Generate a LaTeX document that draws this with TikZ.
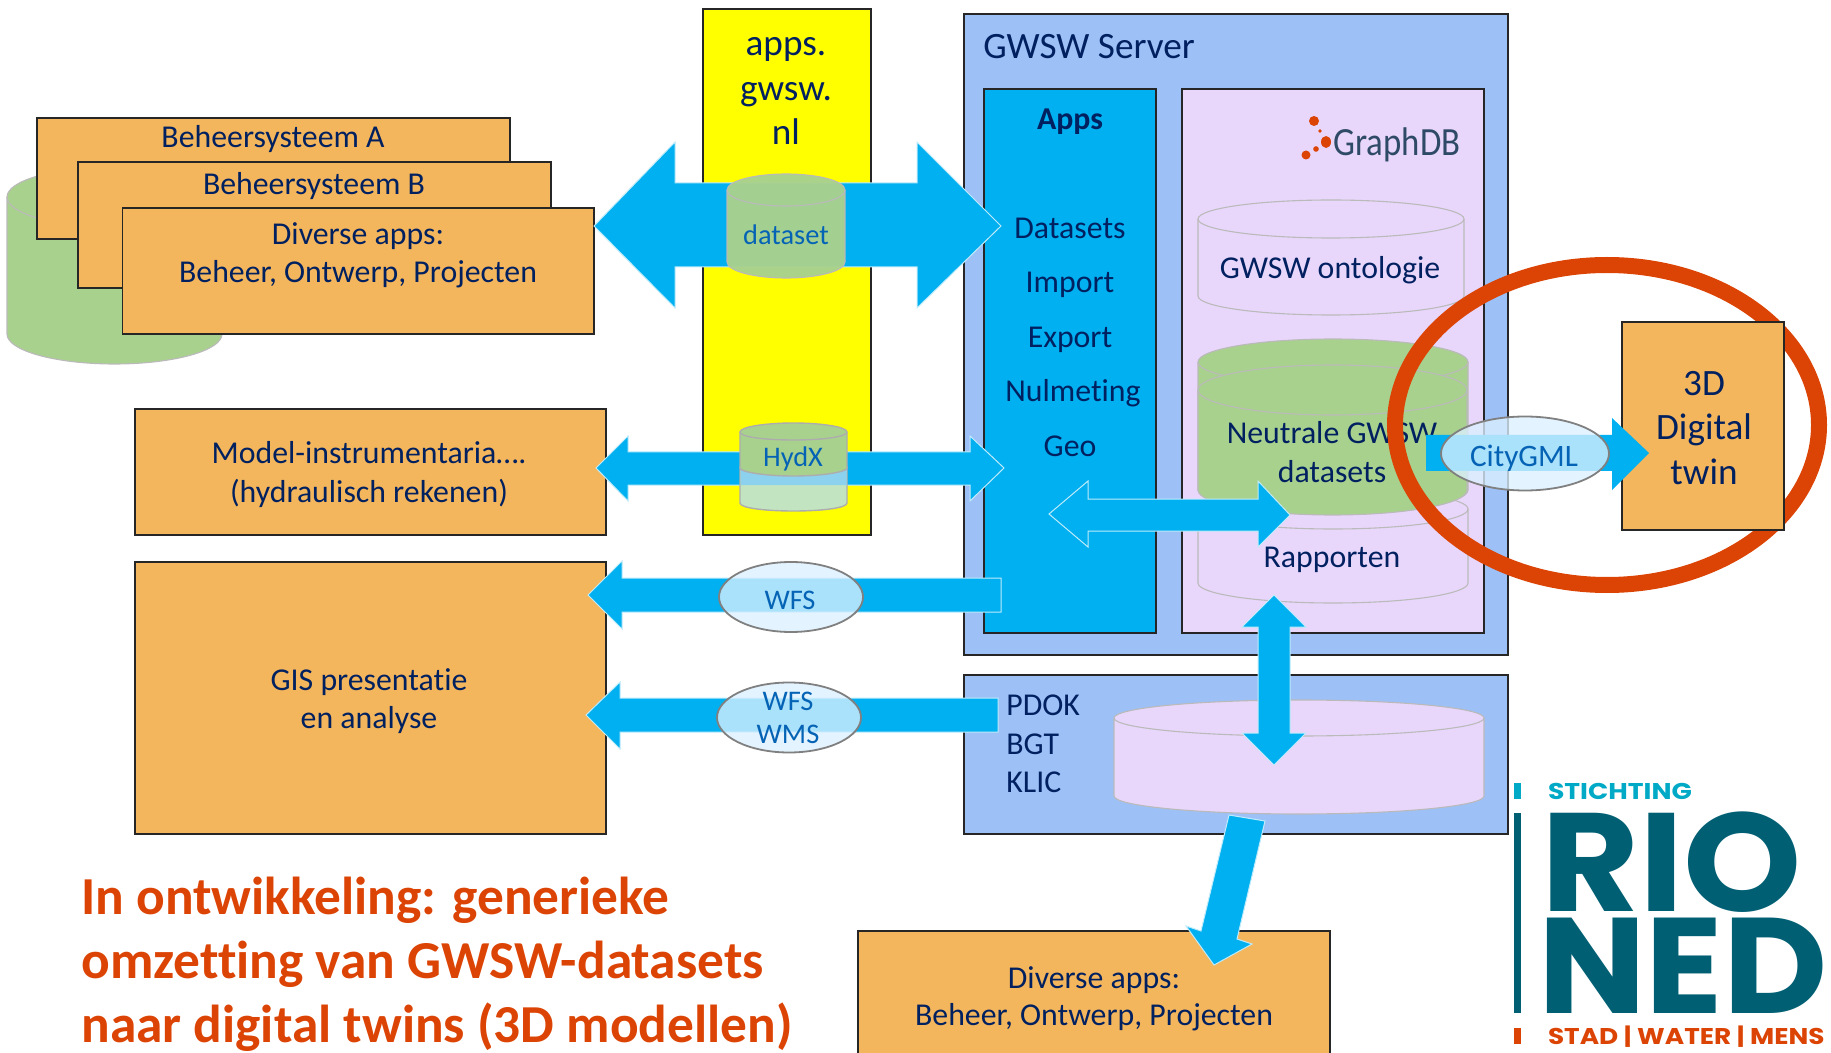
\documentclass[tikz,border=0pt]{standalone}
\usepackage{fontspec}
\setmainfont{Carlito}[Ligatures=NoCommon]
\newfontfamily\logofont{Poppins}
\newfontfamily\logoa{Poppins}[FakeStretch=1.17]
\newfontfamily\logob{Poppins}[FakeStretch=1.075]
\newfontfamily\logoc{Poppins}[FakeStretch=1.055]
\newfontfamily\logod{Poppins}[FakeStretch=1.155]
\newfontfamily\gdbfont{Carlito}[FakeStretch=.87]
\definecolor{navy}{HTML}{002060}
\definecolor{boxorange}{HTML}{F4B65C}
\definecolor{serverblue}{HTML}{9DC0F7}
\definecolor{appblue}{HTML}{00B0F0}
\definecolor{lilac}{HTML}{E8D7FB}
\definecolor{dbgreen}{HTML}{A9D18E}
\definecolor{palegreen}{HTML}{C3E4C0}
\definecolor{stripblue}{HTML}{8CD2EE}
\definecolor{redorange}{HTML}{DC4405}
\definecolor{labelblue}{HTML}{0563B5}
\definecolor{logoteal}{HTML}{005F73}
\definecolor{logolight}{HTML}{00A9C5}
\definecolor{oval}{HTML}{DBF0FF}
\definecolor{graphtext}{HTML}{2F4A66}
\definecolor{pureyellow}{HTML}{FFFF00}
\newcommand\cyl[6]{%
 \pgfmathsetmacro\cxm{(#1+#2)/2}\pgfmathsetmacro\crx{(#2-#1)/2}%
 \pgfmathsetmacro\cky{.5523*#5}\pgfmathsetmacro\ckx{.5523*\crx}%
 \path[cylbody,#6] (#1,#3) -- (#1,#4)
   .. controls (#1,#4+\cky) and (\cxm-\ckx,#4+#5) .. (\cxm,#4+#5)
   .. controls (\cxm+\ckx,#4+#5) and (#2,#4+\cky) .. (#2,#4) -- (#2,#3)
   .. controls (#2,#3-\cky) and (\cxm+\ckx,#3-#5) .. (\cxm,#3-#5)
   .. controls (\cxm-\ckx,#3-#5) and (#1,#3-\cky) .. (#1,#3) -- cycle;
 \draw[cylline] (#1,#3)
   .. controls (#1,#3+\cky) and (\cxm-\ckx,#3+#5) .. (\cxm,#3+#5)
   .. controls (\cxm+\ckx,#3+#5) and (#2,#3+\cky) .. (#2,#3);
}
\tikzset{
 cylbody/.style={draw=black!27,line width=.55pt},
 cylline/.style={draw=black!27,line width=.55pt},
 box/.style={draw=black!85,line width=.8pt},
 orangebox/.style={box,fill=boxorange},
 lbl/.style={text=navy,font=\fontsize{15.9}{19}\selectfont,inner sep=0pt,align=center,text height=.62em,text depth=.1em,yshift=-2.2pt},
 biglbl/.style={text=navy,font=\fontsize{18.6}{22}\selectfont,inner sep=0pt,align=center,text height=.62em,text depth=.1em,yshift=-3.5pt},
 bluelbl/.style={text=labelblue,font=\fontsize{14.2}{17}\selectfont,inner sep=0pt,align=center,text height=.62em,text depth=.1em,yshift=-1.8pt},
 redlbl/.style={inner sep=0pt,anchor=west,text=redorange,font=\fontsize{26.7}{31}\selectfont\bfseries,text height=.62em,text depth=.1em,yshift=-5.8pt},
 blockarrow/.style={fill=appblue,draw=white!75!appblue,line width=.5pt,line join=miter},
 ovalshape/.style={draw=black!50,line width=.9pt,fill=oval,fill opacity=.78},
 logotext/.style={inner sep=0pt,outer sep=0pt,anchor=base west},
}
\begin{document}
\begin{tikzpicture}[x=0.5pt,y=-0.5pt]
\useasboundingbox (0,0) rectangle (1831,1053);
\clip (0,0) rectangle (1831,1053);
% left stack
\cyl{7}{222}{197}{334}{30}{fill=dbgreen}
\draw[orangebox] (37,118) rectangle (510,239);
\draw[orangebox] (78,162) rectangle (551,288);
\draw[orangebox] (122.5,208) rectangle (594,334);
\node[lbl] (ba) at (273,138) {Beheersysteem A};
\node[lbl] (bb) at (314,184.5) {Beheersysteem B};
\node[lbl] (da) at (358,235) {Diverse apps:};
\node[lbl] (db) at (358,273) {Beheer, Ontwerp, Projecten};
% boxes left
\draw[orangebox] (135,409) rectangle (606,535);
\draw[orangebox] (135,562) rectangle (606,834);
\node[lbl] (m1) at (369,454) {Model-instrumentaria….};
\node[lbl] (m2) at (369,493) {(hydraulisch rekenen)};
\node[lbl] (g1) at (369,681) {GIS presentatie};
\node[lbl] (g2) at (369,719) {en analyse};
% yellow
\draw[box,fill=pureyellow,line width=1pt] (703,9) rectangle (871,535);
\node[biglbl] (y1) at (786,43) {apps.};
\node[biglbl] (y2) at (786,88) {gwsw.};
\node[biglbl] (y3) at (786,132) {nl};
% server
\draw[box,fill=serverblue] (964,14) rectangle (1508,655);
\node[biglbl,anchor=west] (srv) at (983,46) {GWSW Server};
\draw[box,fill=appblue,line width=1pt] (984,89) rectangle (1156,633);
\draw[box,fill=lilac,line width=1pt] (1182,89) rectangle (1484,633);
\node[lbl,font=\fontsize{15.9}{19}\selectfont\bfseries] (apps) at (1070,120) {Apps};
\node[lbl] (l1) at (1070,229) {Datasets};
\node[lbl] (l2) at (1070,283) {Import};
\node[lbl] (l3) at (1070,338) {Export};
\node[lbl] (l4) at (1073,392) {Nulmeting};
\node[lbl] (l5) at (1070,447) {Geo};
% GraphDB
\node[inner sep=0pt,text=graphtext,font=\fontsize{20}{24}\gdbfont,anchor=west] (gdb) at (1333,145) {GraphDB};
\fill[redorange] (1314,121) circle[radius=5] (1326,142) ellipse[x radius=5,y radius=6] (1306,155) circle[radius=4.5] (1316,149) circle[radius=2.8] (1320,131) circle[radius=1.8];
% cylinders
\cyl{1198}{1464}{219}{296}{19}{fill=lilac}
\node[lbl] (c1) at (1330,269) {GWSW ontologie};
\cyl{1198}{1468}{509}{583}{20}{fill=lilac}
\cyl{1198}{1468}{362}{490}{23}{fill=dbgreen}
\cyl{1198}{1467}{390}{490}{25}{fill=dbgreen}
\node[lbl] (c2a) at (1332,434) {Neutrale GWSW};
\node[lbl] (c2b) at (1332,473) {datasets};
\node[lbl] (c3) at (1332,558) {Rapporten};
% double arrow apps - graphdb
\path[blockarrow] (1049,514) -- (1088,481) -- (1088,499) -- (1258,499) -- (1258,481) -- (1290,515) -- (1258,547) -- (1258,531) -- (1088,531) -- (1088,547) -- cycle;
% top arrow
\path[blockarrow] (594,226) -- (675,142) -- (675,183) -- (917,183) -- (917,142) -- (1001,226) -- (917,308) -- (917,267) -- (675,267) -- (675,308) -- cycle;
\cyl{727}{845}{190}{262}{16}{fill=dbgreen,opacity=.97}
\node[bluelbl] (ds) at (786,236) {dataset};
% hydx arrow
\path[blockarrow] (596,468) -- (628,436) -- (628,452) -- (970,452) -- (970,436) -- (1004,468) -- (970,501) -- (970,485) -- (628,485) -- (628,501) -- cycle;
\path[draw=black!32,line width=.7pt,fill=palegreen] (740,468) -- (740,503) .. controls (740,508) and (765,511) .. (793.5,511) .. controls (822,511) and (847,508) .. (847,503) -- (847,468) .. controls (847,472) and (822,476) .. (793.5,476) .. controls (765,476) and (740,472) .. (740,468) -- cycle;
\fill[fill=stripblue] (740.5,468) .. controls (740,472) and (765,476) .. (793.5,476) .. controls (822,476) and (847,472) .. (846.5,468) -- (846.5,485) -- (740.5,485) -- cycle;
\path[draw=black!32,line width=.7pt,fill=dbgreen] (740,432) -- (740,468) .. controls (740,472) and (765,476) .. (793.5,476) .. controls (822,476) and (847,472) .. (847,468) -- (847,432) .. controls (847,427) and (822,423) .. (793.5,423) .. controls (765,423) and (740,427) .. (740,432) -- cycle;
\draw[draw=black!32,line width=.7pt] (740,432) .. controls (740,437) and (765,440) .. (793.5,440) .. controls (822,440) and (847,437) .. (847,432);
\node[bluelbl] (hx) at (793,458) {HydX};
% WFS arrow
\path[blockarrow] (588,595) -- (622,561) -- (622,578) -- (1001,578) -- (1001,612) -- (622,612) -- (622,629) -- cycle;
\path[ovalshape] (791,597) ellipse[x radius=72,y radius=35];
\node[bluelbl] (w1) at (790,601) {WFS};
% PDOK
\draw[box,fill=serverblue] (964,675) rectangle (1508,834);
\cyl{1114}{1484}{718}{796}{18}{fill=lilac}
\node[lbl,anchor=west] (p1) at (1006,706) {PDOK};
\node[lbl,anchor=west] (p2) at (1006,745) {BGT};
\node[lbl,anchor=west] (p3) at (1006,783) {KLIC};
% WMS arrow
\path[blockarrow] (586,715) -- (620,682) -- (620,698) -- (998,698) -- (998,732) -- (620,732) -- (620,749) -- cycle;
\path[ovalshape] (789,717.5) ellipse[x radius=72,y radius=35];
\node[bluelbl] (w2) at (788,702) {WFS};
\node[bluelbl] (w3) at (788,735) {WMS};
% vertical arrow
\path[blockarrow] (1274,595) -- (1306,627) -- (1290,627) -- (1290,733) -- (1306,733) -- (1274,765) -- (1242,733) -- (1258,733) -- (1258,627) -- (1242,627) -- cycle;
% red ellipse
\draw[redorange,line width=8pt] (1607,425) ellipse[x radius=212,y radius=160];
% 3D box
\draw[orangebox] (1622,322) rectangle (1784,530);
\node[biglbl] (t1) at (1704,383) {3D};
\node[biglbl] (t2) at (1704,427) {Digital};
\node[biglbl] (t3) at (1704,472) {twin};
% citygml arrow
\path[blockarrow,draw=none] (1426,435) -- (1612,435) -- (1612,418) -- (1649,453) -- (1612,490) -- (1612,471) -- (1426,471) -- cycle;
\path[ovalshape] (1525,453.5) ellipse[x radius=84,y radius=37];
\node[bluelbl,font=\fontsize{15.6}{19}\selectfont] (cg) at (1524,458) {CityGML};
% bottom box
\draw[orangebox] (858,931) rectangle (1330,1070);
\node[lbl] (b1) at (1094,978.5) {Diverse apps:};
\node[lbl] (b2) at (1094,1016) {Beheer, Ontwerp, Projecten};
% bottom arrow
\path[blockarrow] (1229,815) -- (1265,821) -- (1237,939) -- (1252,944) -- (1214,965) -- (1186,926) -- (1201,931) -- cycle;
% red text
\node[redlbl] (r1) at (81,898) {In ontwikkeling: generieke};
\node[redlbl] (r2) at (81,962) {omzetting van GWSW-datasets};
\node[redlbl] (r3) at (81,1026) {naar digital twins (3D modellen)};
% logo
\fill[logolight] (1514,783) rectangle (1521,799);
\fill[logoteal] (1514,813) rectangle (1521,1013);
\fill[redorange] (1514,1028) rectangle (1521,1044);
\node[logotext,text=logolight,font=\fontsize{11.4}{12}\logoa\bfseries] (lg1) at (1548,799) {STICHTING};
\node[logotext,text=logoteal,font=\fontsize{70}{70}\logob\bfseries] (lg2) at (1541,911) {RIO};
\node[logotext,text=logoteal,font=\fontsize{68}{70}\logoc\bfseries] (lg3) at (1538,1013) {NED};
\node[logotext,text=redorange,font=\fontsize{11.4}{12}\logod\bfseries] (lg4) at (1548,1044) {STAD | WATER | MENS};
\end{tikzpicture}
\end{document}
